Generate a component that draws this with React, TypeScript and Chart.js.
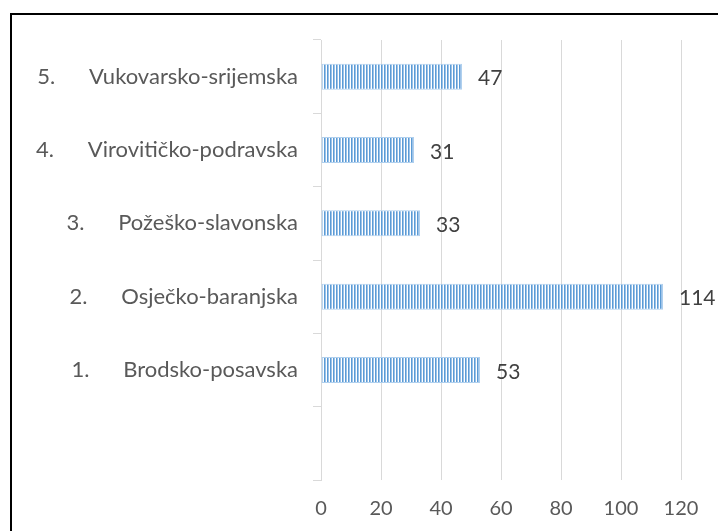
import React, { useEffect, useRef } from "react";
import { Chart, registerables } from "chart.js";

Chart.register(...registerables);

const categories = [
  "5.      Vukovarsko-srijemska",
  "4.      Virovitičko-podravska",
  "3.      Požeško-slavonska",
  "2.      Osječko-baranjska",
  "1.      Brodsko-posavska",
  "",
];
const values: (number | null)[] = [47, 31, 33, 114, 53, null];
const xMin = 0;
const xMax = 120;
const xStep = 20;

function makePattern(): CanvasPattern | string {
  const c = document.createElement("canvas");
  c.width = 3;
  c.height = 4;
  const g = c.getContext("2d");
  if (!g) return "#5b9bd5";
  g.fillStyle = "#5b9bd5";
  g.fillRect(0, 0, 1, 4);
  g.fillStyle = "#9cc2e8";
  g.fillRect(1, 0, 1, 4);
  g.fillStyle = "#ffffff";
  g.fillRect(2, 0, 1, 4);
  const p = g.createPattern(c, "repeat");
  return p || "#5b9bd5";
}

const valueLabels = {
  id: "valueLabels",
  afterDatasetsDraw(chart: any) {
    const ctx = chart.ctx;
    const meta = chart.getDatasetMeta(0);
    ctx.save();
    ctx.font = "21px Lato";
    ctx.fillStyle = "#404040";
    ctx.textAlign = "left";
    ctx.textBaseline = "middle";
    meta.data.forEach((bar: any, i: number) => {
      const v = values[i];
      if (v === null || v === undefined) return;
      ctx.fillText(String(v), bar.x + 16, bar.y + 2);
    });
    ctx.restore();
  },
};

export default function App() {
  const ref = useRef<HTMLCanvasElement>(null);
  useEffect(() => {
    document.body.style.margin = "0";
    document.body.style.overflow = "hidden";
    const canvas = ref.current;
    if (!canvas) return;
    const chart = new Chart(canvas, {
      type: "bar",
      data: {
        labels: categories,
        datasets: [
          {
            data: values,
            backgroundColor: makePattern() as any,
            borderColor: "#b0d0ee",
            borderWidth: 1,
            borderSkipped: false,
            barPercentage: 0.355,
            categoryPercentage: 1,
          },
        ],
      },
      options: {
        indexAxis: "y",
        animation: false,
        responsive: false,
        maintainAspectRatio: false,
        layout: { padding: { left: 0, top: 40, right: 37, bottom: 0 } },
        plugins: {
          legend: { display: false },
          tooltip: { enabled: false },
          title: { display: false },
        },
        scales: {
          x: {
            min: xMin,
            max: xMax,
            ticks: {
              stepSize: xStep,
              color: "#595959",
              font: { family: "Lato", size: 20 },
              padding: 17,
            },
            grid: { color: "#d9d9d9", drawTicks: false, lineWidth: 1 },
            border: { display: false },
            afterFit: (s: any) => {
              s.height = 51;
            },
          },
          y: {
            ticks: {
              color: "#595959",
              font: { family: "Lato", size: 22 },
              padding: 15,
              autoSkip: false,
            },
            grid: {
              color: "#d9d9d9",
              drawOnChartArea: false,
              drawTicks: true,
              tickLength: 8,
              offset: true,
            },
            border: { display: true, color: "#d9d9d9" },
            afterFit: (s: any) => {
              s.width = 321;
            },
          },
        },
      },
      plugins: [valueLabels],
    });
    return () => chart.destroy();
  }, []);
  return (
    <div style={{ position: "relative", width: 718, height: 531, overflow: "hidden", background: "#fff" }}>
      <canvas ref={ref} width={718} height={531} style={{ position: "absolute", left: 0, top: 0 }} />
      <div
        style={{
          position: "absolute",
          left: 10,
          top: 13,
          width: 800,
          height: 600,
          borderLeft: "2px solid #000",
          borderTop: "2px solid #000",
          pointerEvents: "none",
        }}
      />
    </div>
  );
}
